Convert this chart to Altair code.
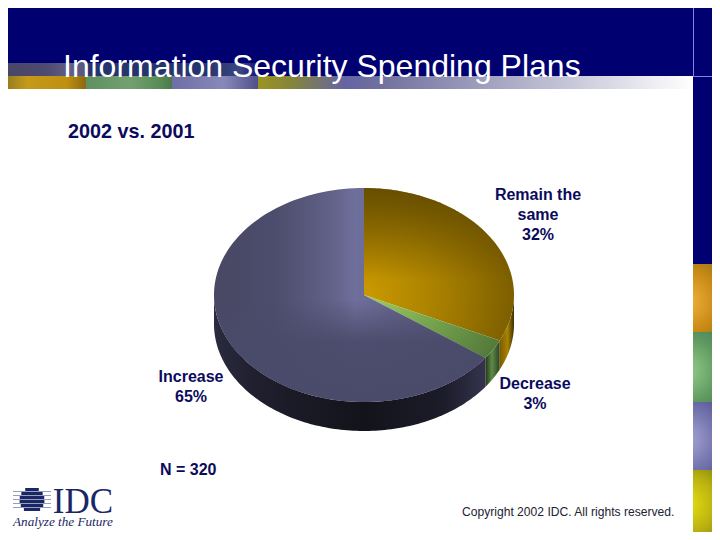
import altair as alt
import numpy as np
import pandas as pd

# ---- chart values ----
categories = ["Remain the same", "Decrease", "Increase"]
shares = [32, 3, 65]
title_text = "Information Security Spending Plans"
subtitle_text = "2002 vs. 2001"
sample_text = "N = 320"
copyright_text = "Copyright 2002 IDC. All rights reserved."

W, H, OFF = 712, 532, 8
xs = alt.Scale(domain=[OFF, W], range=[0, W - OFF])
ys = alt.Scale(domain=[OFF, H], range=[0, H - OFF])
NAVY = "#000070"
INK = "#0b0b5c"


def lin(stops, x1=0, y1=0, x2=1, y2=0):
    return alt.LinearGradient(
        gradient="linear", x1=x1, y1=y1, x2=x2, y2=y2,
        stops=[alt.GradientStop(offset=o, color=c) for o, c in stops],
    )


def rad(stops, cx, cy, r):
    return alt.RadialGradient(
        gradient="radial", x1=cx, y1=cy, x2=cx, y2=cy, r1=0, r2=r,
        stops=[alt.GradientStop(offset=o, color=c) for o, c in stops],
    )


def box(x0, x1, y0, y1, fill):
    df = pd.DataFrame({"a": [x0], "b": [x1], "c": [y0], "d": [y1]})
    return alt.Chart(df).mark_rect(fill=fill, stroke=None).encode(
        x=alt.X("a:Q", scale=xs, axis=None), x2="b:Q",
        y=alt.Y("c:Q", scale=ys, axis=None), y2="d:Q",
    )


def label(text, x, y, size, color=INK, weight="normal", font="Liberation Sans",
          align="center", style="normal"):
    df = pd.DataFrame({"t": [text], "px": [x], "py": [y]})
    return alt.Chart(df).mark_text(
        font=font, fontSize=size, color=color, fontWeight=weight, align=align,
        baseline="alphabetic", fontStyle=style,
    ).encode(
        x=alt.X("px:Q", scale=xs, axis=None),
        y=alt.Y("py:Q", scale=ys, axis=None),
        text="t:N",
    )


# ---- pie geometry, derived from the shares ----
CX, CY, RX, RY, DEPTH = 364.0, 295.0, 150.0, 107.0, 29.0
edges = np.concatenate([[0], np.cumsum(shares)]) / sum(shares) * 2 * np.pi


def rim(t0, t1, dy=0.0, n=120):
    t = np.linspace(t0, t1, n)
    return np.column_stack([CX + RX * np.sin(t) - OFF, CY - RY * np.cos(t) + dy - OFF])


def shape(points, fill):
    ring = [[float(a), float(b)] for a, b in points]
    ring.append(ring[0])
    feature = {"type": "Feature", "properties": {},
               "geometry": {"type": "Polygon", "coordinates": [ring]}}
    return alt.Chart(alt.Data(values=[feature])).mark_geoshape(
        fill=fill, stroke=None
    ).project(type="identity", scale=1, translate=[0, 0])


def top(i):
    return np.vstack([[[CX - OFF, CY - OFF]], rim(edges[i], edges[i + 1])])


def wall(t0, t1):
    return np.vstack([rim(t0, t1), rim(t0, t1, DEPTH)[::-1]])


pie = [
    shape(wall(edges[2], 1.5 * np.pi), lin([(0, "#2b2b40"), (0.15, "#1f1f2e"), (0.55, "#13131b"),
                                            (0.85, "#1c1c2a"), (1, "#34344e")])),
    shape(wall(edges[1], edges[2]), lin([(0, "#223318"), (0.45, "#5f8a48"), (1, "#2c4420")])),
    shape(wall(0.5 * np.pi, edges[1]), lin([(0, "#7a5c00"), (0.55, "#a88200"), (1, "#3c2e00")])),
    shape(top(0), rad([(0, "#cc9a00"), (0.5, "#a88000"), (1, "#7c5e00")], 0.0, 0.70, 1.0)),
    shape(top(0), lin([(0, "rgba(90,68,0,0.78)"), (0.6, "rgba(90,68,0,0)"),
                       (1, "rgba(90,68,0,0)")], 0, 0, 0, 1)),
    shape(top(1), rad([(0, "#b8e468"), (0.5, "#7aa850"), (1, "#4d7236")], 0.0, 0.0, 1.25)),
    shape(top(2), lin([(0, "#484864"), (0.22, "#4c4c6c"), (0.32, "#565678"), (0.45, "#64648c"),
                       (0.52, "#6f6f9c"), (0.57, "#6c6c98"), (1, "#50506e")])),
    shape(top(2), lin([(0, "rgba(74,74,106,0)"), (0.52, "rgba(74,74,106,0)"),
                       (0.72, "rgba(74,74,106,0.92)"), (1, "rgba(74,74,106,1)")], 0, 0, 0, 1)),
]

# ---- slide background ----
frame = [
    box(OFF, W, OFF, 76, NAVY),
    box(693, W, OFF, 264, NAVY),
    box(OFF, 86, 63, 76, lin([(0, "#4a4668"), (0.5, "#4e4a70"), (0.8, "#60608a"), (1, "#55557f")])),
    box(86, 258, 63, 76, lin([(0, "#26346e"), (0.7, "#26346e"), (0.9, "#3c4680"), (1, "#10107a")])),
    box(OFF, 86, 76, 89, lin([(0, "#9a7d20"), (0.25, "#c49a18"), (0.75, "#c09010"), (1, "#8a6a10")])),
    box(86, 172, 76, 89, lin([(0, "#5f9060"), (0.5, "#74a070"), (0.85, "#5a8c58"), (1, "#4a7a48")])),
    box(172, 258, 76, 89, lin([(0, "#6e6ea8"), (0.6, "#8888b8"), (1, "#50508a")])),
    box(258, 345, 76, 89, lin([(0, "#9c9420"), (0.4, "#84843c"), (1, "#6464a4")])),
    box(345, 693, 76, 89, lin([(0, "#6464a4"), (0.1, "#70709e"), (1, "#ffffff")])),
    box(693, W, 264, 332, rad([(0, "#f2b440"), (0.55, "#c88a14"), (1, "#8c6a20")], 0.25, 0.55, 0.85)),
    box(693, W, 332, 402, rad([(0, "#9ad08c"), (0.55, "#5f9a60"), (1, "#3f7a58")], 0.25, 0.55, 0.85)),
    box(693, W, 402, 470, rad([(0, "#a8a8d4"), (0.55, "#7272ac"), (1, "#4a4a8c")], 0.25, 0.55, 0.85)),
    box(693, W, 470, H, rad([(0, "#e8e010"), (0.55, "#b8b010"), (1, "#7c7a10")], 0.25, 0.55, 0.85)),
    box(693, 694, OFF, 76, lin([(0, "#8080e8"), (1, "#8080e8")])),
    box(693, W, 76, 77, lin([(0, "#8080e8"), (1, "#8080e8")])),
]

# ---- IDC logo ----
logo = []
for sy in range(491, 511, 4):
    logo.append(box(13, 51, sy, sy + 1, lin([(0, "#9aa0b8"), (1, "#9aa0b8")])))
for sy in np.arange(488.0, 512.0, 4.0):
    half = np.sqrt(max(12.5 ** 2 - (sy + 1.5 - 500.0) ** 2, 0.0))
    logo.append(box(32 - half, 32 + half, sy, sy + 3, lin([(0, "#1a2766"), (1, "#1a2766")])))

texts = [
    label(title_text, 63, 77, 32, color="#ffffff", align="left"),
    label(subtitle_text, 68, 138, 19.8, weight="bold", align="left"),
    label("Remain the", 538, 200, 16, weight="bold"),
    label("same", 538, 220, 16, weight="bold"),
    label(f"{shares[0]}%", 538, 240, 16, weight="bold"),
    label(categories[1], 535, 389, 16, weight="bold"),
    label(f"{shares[1]}%", 535, 409, 16, weight="bold"),
    label(categories[2], 191, 382, 16, weight="bold"),
    label(f"{shares[2]}%", 191, 402, 16, weight="bold"),
    label(sample_text, 160, 475, 16, weight="bold", align="left"),
    label(copyright_text, 462, 516, 12.1, color="#222233", align="left"),
    label("IDC", 83, 513, 35, color="#1a2766", font="Liberation Serif"),
    label("Analyze the Future", 13, 526, 13.2, color="#1a2766", font="Liberation Serif",
          align="left", style="italic"),
]

chart = alt.layer(*frame, *pie, *logo, *texts).properties(
    width=W - OFF, height=H - OFF, padding=0,
    autosize=alt.AutoSizeParams(type="none"),
    background="#ffffff",
).configure_view(stroke=None)

chart.save("out.html", embed_options={"renderer": "svg", "actions": False})
